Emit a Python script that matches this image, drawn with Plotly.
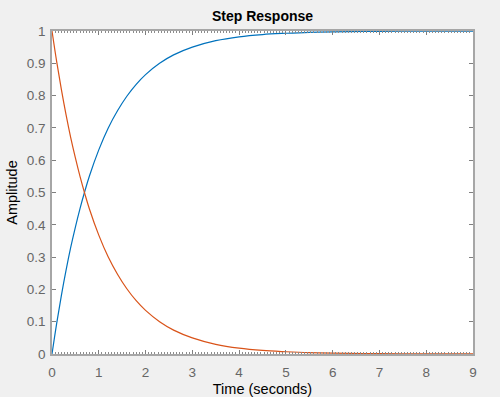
import plotly.graph_objects as go

t_vals = [0, 0.1, 0.2, 0.3, 0.4, 0.5, 0.6, 0.7, 0.8, 1.0, 1.2, 1.4, 1.6, 1.8, 2.0, 2.3, 2.6, 3.0, 3.5, 4.0, 4.5, 5.0, 5.5, 6.0, 7.0, 8.0, 9.0]
rise_vals = [0, 0.095, 0.181, 0.259, 0.33, 0.393, 0.451, 0.503, 0.551, 0.632, 0.699, 0.753, 0.798, 0.835, 0.865, 0.9, 0.926, 0.95, 0.97, 0.982, 0.989, 0.993, 0.996, 0.9975, 0.999, 0.9997, 0.9999]
decay_vals = [1, 0.905, 0.819, 0.741, 0.67, 0.607, 0.549, 0.497, 0.449, 0.368, 0.301, 0.247, 0.202, 0.165, 0.135, 0.1, 0.074, 0.05, 0.03, 0.018, 0.011, 0.007, 0.004, 0.0025, 0.001, 0.0003, 0.0001]
x_ticks = [0, 1, 2, 3, 4, 5, 6, 7, 8, 9]
y_ticks = [0, 0.1, 0.2, 0.3, 0.4, 0.5, 0.6, 0.7, 0.8, 0.9, 1]

fig = go.Figure()
fig.add_trace(go.Scatter(x=t_vals, y=rise_vals, mode="lines", line=dict(color="#0072BD", width=1.2, shape="spline"), showlegend=False))
fig.add_trace(go.Scatter(x=t_vals, y=decay_vals, mode="lines", line=dict(color="#D95319", width=1.2, shape="spline"), showlegend=False))

axis_common = dict(showgrid=False, zeroline=False, showline=True, linecolor="#A6A6A6", linewidth=1.5,
                   mirror="ticks", ticks="inside", tickcolor="#7F7F7F", ticklen=4, automargin=False,
                   tickfont=dict(family="Liberation Sans, Arial", size=13.5, color="#666666"))

fig.update_xaxes(range=[0, 9], tickvals=x_ticks, ticktext=[str(v) for v in x_ticks],
                 minor=dict(dtick=1/15, ticks="inside", ticklen=2, tickcolor="#8C8C8C"),
                 ticklabelstandoff=5,
                 title=dict(text="Time (seconds)", font=dict(family="Liberation Sans, Arial", size=14.5, color="#000000"), standoff=6),
                 **axis_common)
fig.update_yaxes(range=[0, 1], tickvals=y_ticks, ticktext=[("%g" % v) for v in y_ticks],
                 ticklabelstandoff=2,
                 title=dict(text="Amplitude", font=dict(family="Liberation Sans, Arial", size=14.5, color="#000000"), standoff=6),
                 **axis_common)

fig.update_layout(
    width=500, height=397,
    margin=dict(l=52, r=27, t=31, b=43),
    paper_bgcolor="#F0F0F0", plot_bgcolor="#FFFFFF",
    title=dict(text="<b>Step Response</b>", x=0.525, xanchor="center", y=0.96, yanchor="middle",
               font=dict(family="Liberation Sans, Arial", size=14, color="#000000")),
)

fig.write_html("out.html")
